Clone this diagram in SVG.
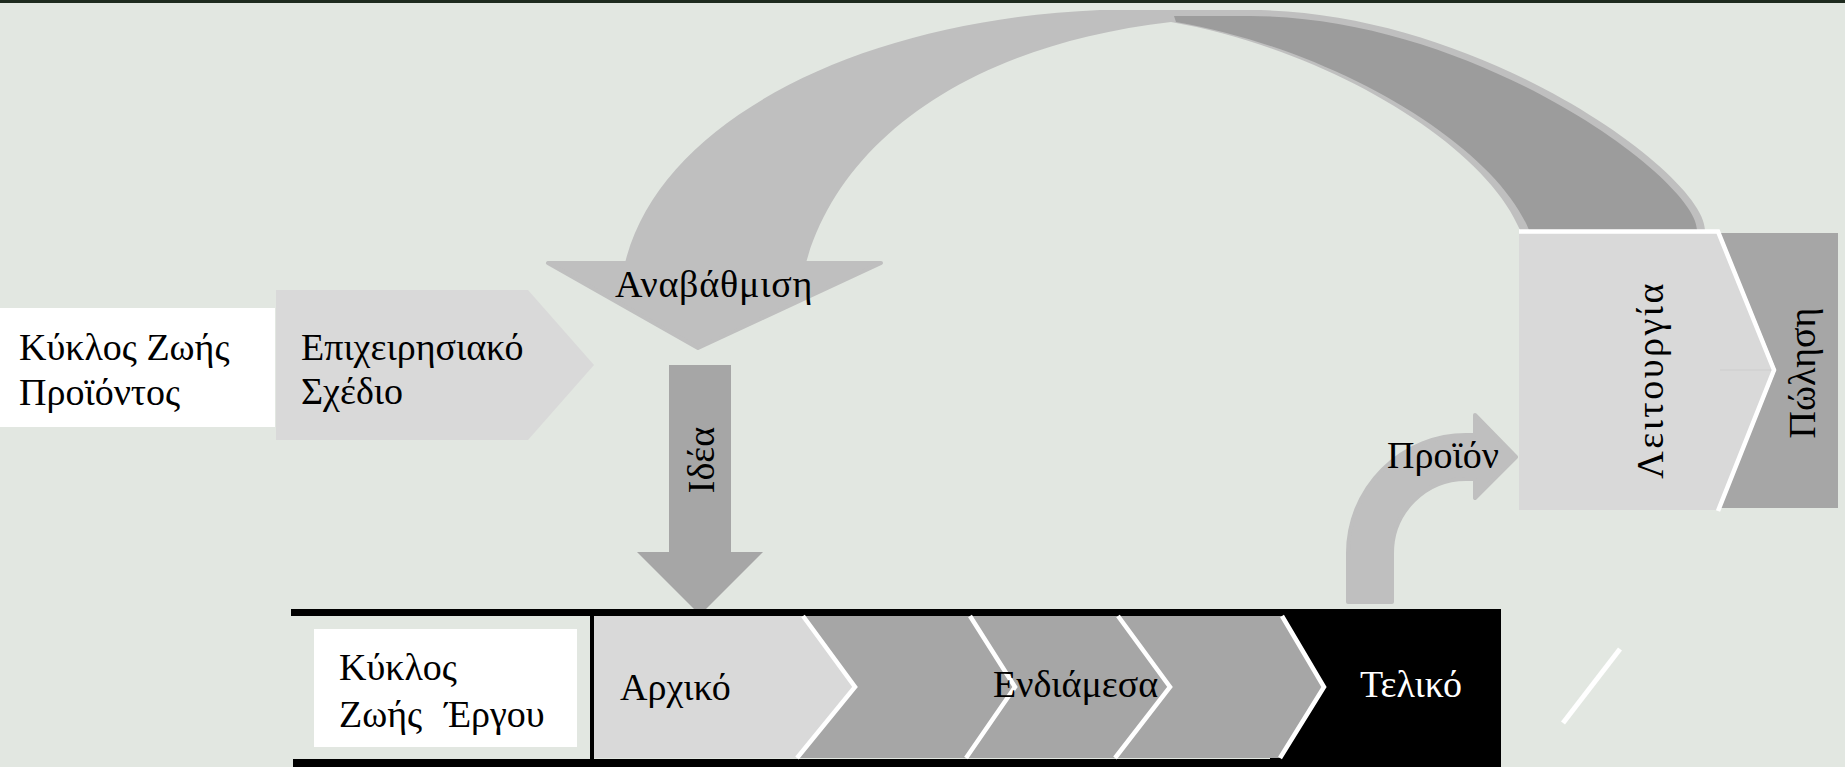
<svg xmlns="http://www.w3.org/2000/svg" width="1845" height="767" viewBox="0 0 1845 767">
<style>
text{font-family:'Liberation Serif','DejaVu Serif',serif;font-size:38px;fill:#000}
.lt{fill:#d9d9d9}
.dk{fill:#a6a6a6}
.arc{fill:#bfbfbf}
.sep{fill:none;stroke:#fff;stroke-width:4.5}
</style>
<rect x="0" y="0" width="1845" height="767" fill="#e2e7e1"/>
<rect x="0" y="0" width="1845" height="3" fill="#1e2a1e"/>

<g id="connectors">
  <g id="upgrade-arrow">
    <path class="arc" d="M625,263 C660,120 860,20 1100,10 L1250,10 C1480,10 1705,175 1705,230 L1520,230 C1485,145 1330,50 1171,22 C970,45 840,140 806,263 Z"/>
    <path fill="#9c9c9c" d="M1174,16 L1250,16 C1476,16 1697,180 1697,230 L1529,230 C1494,145 1337,50 1176,22 Z"/>
    <path class="arc" stroke="#bfbfbf" stroke-width="4" stroke-linejoin="round" d="M548,263 L881,263 L698,348 Z"/>
    <text x="615" y="297" letter-spacing="0.8">Αναβάθμιση</text>
  </g>
  <g id="idea-arrow">
    <polygon class="dk" points="669,365 731,365 731,552 763,552 700,615 637,552 669,552"/>
    <text transform="translate(714,460) rotate(-90)" text-anchor="middle">Ιδέα</text>
  </g>
  <g id="product-arrow">
    <path class="arc" stroke="#bfbfbf" stroke-width="4" stroke-linejoin="round" d="M1348,602 L1348,553 A118,118 0 0 1 1466,435 L1475,435 L1475,415 L1516,457 L1475,498 L1475,479 L1466,479 A74,74 0 0 0 1392,553 L1392,602 Z"/>
    <text x="1387" y="468">Προϊόν</text>
  </g>
</g>

<g id="product-lifecycle">
  <rect x="0" y="308" width="275" height="119" fill="#fff"/>
  <text x="19" y="360">Κύκλος Ζωής</text>
  <text x="19" y="405">Προϊόντος</text>
</g>

<g id="business-plan">
  <polygon class="lt" points="276,290 528,290 594,365 528,440 276,440"/>
  <text x="301" y="360">Επιχειρησιακό</text>
  <text x="301" y="404">Σχέδιο</text>
</g>

<g id="sale">
  <polygon class="dk" points="1720,233 1838,233 1838,508 1720,508 1776,370"/>
  <text transform="translate(1815,373) rotate(-90)" text-anchor="middle">Πώληση</text>
</g>

<g id="operation">
  <polygon class="lt" points="1519,231 1718,231 1774,370 1718,510 1519,510"/>
  <line x1="1720" y1="370" x2="1772" y2="370" stroke="#cdcdcd" stroke-width="1"/>
  <polyline class="sep" points="1519,231.5 1718,231.5 1774,370 1718,511"/>
  <text transform="translate(1663,380) rotate(-90)" text-anchor="middle" letter-spacing="2.5">Λειτουργία</text>
</g>

<g id="project-lifecycle">
  <rect x="291" y="609" width="1210" height="7" fill="#000"/>
  <rect x="293" y="759" width="1208" height="8" fill="#000"/>
  <rect x="1270" y="609" width="231" height="158" fill="#000"/>
  <rect x="314" y="629" width="263" height="118" fill="#fff"/>
  <text x="339" y="680">Κύκλος</text>
  <text x="339" y="727">Ζωής <tspan dx="13">Έργου</tspan></text>
</g>

<g id="stage-initial">
  <polygon class="lt" points="594,616 803,616 855,687 797,758 594,758"/>
  <text x="620" y="700">Αρχικό</text>
</g>
<g id="stage-intermediate">
  <polygon class="dk" points="803,616 970,616 1015,687 966,758 797,758 855,687"/>
  <polygon class="dk" points="970,616 1118,616 1170,687 1115,758 966,758 1015,687"/>
  <polygon class="dk" points="1118,616 1282,616 1324,687 1280,758 1115,758 1170,687"/>
  <polyline class="sep" points="803,616 855,687 797,758"/>
  <polyline class="sep" points="970,616 1015,687 966,758"/>
  <polyline class="sep" points="1118,616 1170,687 1115,758"/>
  <polyline class="sep" points="1282,616 1324,687 1280,758"/>
  <text x="993" y="697">Ενδιάμεσα</text>
</g>
<rect x="590" y="609" width="4" height="158" fill="#000"/>
<g id="stage-final">
  <text x="1360" y="697" style="fill:#fff">Τελικό</text>
</g>

<line x1="1620" y1="649" x2="1563" y2="723" stroke="#fff" stroke-width="5"/>
</svg>
